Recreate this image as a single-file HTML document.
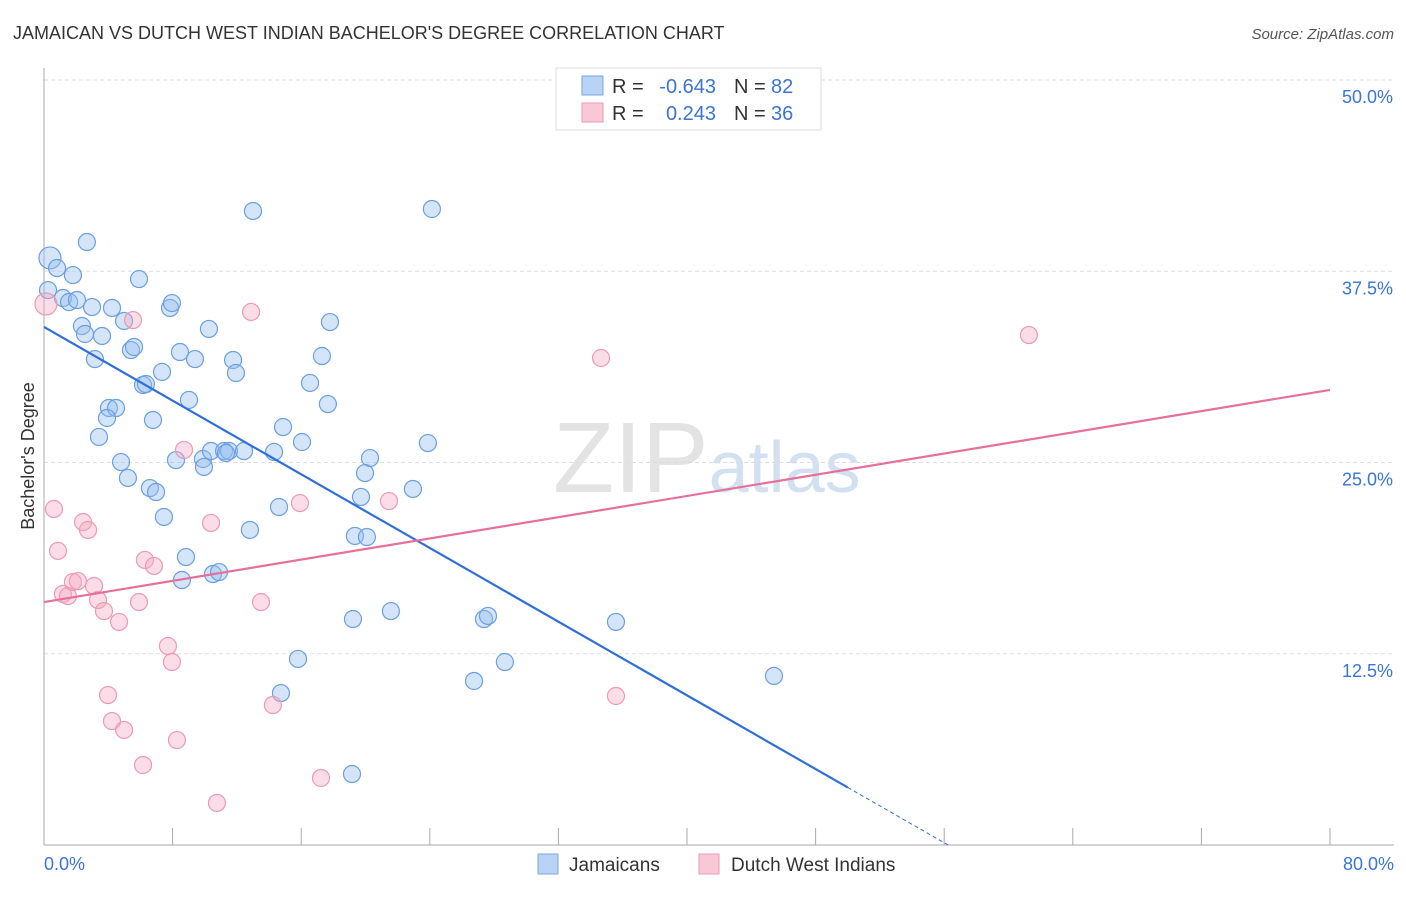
<!DOCTYPE html>
<html><head><meta charset="utf-8"><style>
body{margin:0;background:#fff;font-family:"Liberation Sans",sans-serif;}
svg text{font-family:"Liberation Sans",sans-serif;}
</style></head><body>
<svg id="chart" width="1406" height="892" xmlns="http://www.w3.org/2000/svg">
<text x="13" y="39" font-size="18" fill="#333">JAMAICAN VS DUTCH WEST INDIAN BACHELOR'S DEGREE CORRELATION CHART</text>
<text x="1394" y="39" font-size="15" fill="#555" font-style="italic" text-anchor="end">Source: ZipAtlas.com</text>
<text x="553" y="492" font-size="100" fill="#ddd" font-family="Liberation Serif" opacity="0.8">ZIP<tspan fill="#c9d9ef" font-family="Liberation Sans" font-size="72">atlas</tspan></text>
<text transform="translate(34,456) rotate(-90)" font-size="18" fill="#333" text-anchor="middle">Bachelor's Degree</text>
<g id="grid"></g><g id="axes"></g><g id="pts"></g><g id="trends"></g>
<g>
<rect x="556" y="68" width="265" height="62" fill="#fff" stroke="#ddd"/>
<rect x="582" y="76" width="21" height="19" fill="#b8d3f5" stroke="#7aa7e0"/>
<text x="612" y="93" font-size="20" fill="#333">R =</text>
<text x="716" y="93" font-size="20" fill="#3a74d6" text-anchor="end">-0.643</text>
<text x="734" y="93" font-size="20" fill="#333">N =</text>
<text x="771" y="93" font-size="20" fill="#3a74d6">82</text>
<rect x="582" y="103" width="21" height="19" fill="#f9c8d6" stroke="#eb9ab2"/>
<text x="612" y="120" font-size="20" fill="#333">R =</text>
<text x="716" y="120" font-size="20" fill="#3a74d6" text-anchor="end">0.243</text>
<text x="734" y="120" font-size="20" fill="#333">N =</text>
<text x="771" y="120" font-size="20" fill="#3a74d6">36</text>
</g>
<g>
<rect x="538" y="854" width="20" height="20" fill="#b8d3f5" stroke="#7aa7e0"/>
<text x="569" y="871" font-size="19" fill="#333">Jamaicans</text>
<rect x="699" y="854" width="20" height="20" fill="#f9c8d6" stroke="#eb9ab2"/>
<text x="731" y="871" font-size="19" fill="#333">Dutch West Indians</text>
</g>
</svg>
<script>
const xTickLabels=["0.0%","80.0%"];
const yTicks=[12.5,25,37.5,50];
const yTickLabels=["12.5%","25.0%","37.5%","50.0%"];
const jamX=[0.37,0.25,0.81,1.80,2.67,1.18,1.56,2.05,2.99,4.23,5.91,2.36,2.55,3.61,4.98,3.17,5.41,5.60,7.84,7.96,10.26,8.46,9.39,11.76,11.94,7.34,6.16,6.34,9.02,4.04,4.48,3.92,6.78,3.42,4.79,5.22,8.21,6.59,6.97,9.89,9.95,10.39,11.20,11.51,11.32,12.44,14.31,14.87,16.05,16.55,17.29,17.79,17.66,13.00,24.13,23.88,20.28,19.97,19.72,22.95,14.62,12.81,7.46,8.83,8.58,10.51,10.89,19.34,20.09,19.22,21.58,27.37,27.62,35.58,15.80,14.74,26.75,28.67,45.41,19.16];
const jamY=[38.37,36.27,37.71,37.25,39.41,35.75,35.49,35.62,35.16,35.10,36.99,33.92,33.40,33.27,34.25,31.76,32.35,32.55,35.10,35.42,33.73,32.22,31.76,31.70,30.85,30.92,30.07,30.13,29.09,28.56,28.56,27.91,27.78,26.67,25.03,23.99,25.16,23.33,23.07,25.23,24.71,25.75,25.75,25.75,25.62,25.75,25.69,27.32,26.34,30.20,31.96,34.18,28.82,41.44,41.57,26.27,25.29,24.31,22.75,23.27,22.09,20.59,21.44,18.82,17.32,17.71,17.84,20.20,20.13,14.77,15.29,14.77,14.97,14.58,12.16,9.93,10.72,11.96,11.05,4.64];
const dutX=[0.12,0.62,0.87,2.43,2.74,1.18,1.49,1.80,2.11,3.11,3.36,3.73,4.67,5.91,6.28,6.84,7.71,7.96,8.71,10.39,12.88,5.54,13.50,15.92,21.46,34.65,61.27,3.98,4.23,4.98,6.16,8.27,10.76,14.24,17.23,35.58];
const dutY=[35.36,21.96,19.22,21.11,20.59,16.41,16.27,17.19,17.25,16.93,16.01,15.29,14.58,15.88,18.63,18.24,13.01,11.96,25.82,21.05,34.84,34.31,15.88,22.35,22.48,31.83,33.33,9.80,8.10,7.52,5.23,6.86,2.75,9.15,4.38,9.74];
const jamTrend=[33.86,-0.602];
const dutTrend=[15.88,0.1733];
const NS="http://www.w3.org/2000/svg";
const X=v=>44+v*(1286/80), Y=v=>845-v*15.3;
function mk(p,t,a){const e=document.createElementNS(NS,t);for(const k in a)e.setAttribute(k,a[k]);p.appendChild(e);return e;}
const grid=document.getElementById('grid'),axes=document.getElementById('axes'),pts=document.getElementById('pts'),tr=document.getElementById('trends');
yTicks.forEach((v,i)=>{
 const l=mk(grid,'line',{x1:44,x2:1394,y1:Y(v),y2:Y(v),stroke:'#ddd','stroke-dasharray':'4,3'});
 
 
 const t=mk(grid,'text',{x:1393,y:Y(v)+23,'font-size':18,fill:'#3a74d6','text-anchor':'end'});t.textContent=yTickLabels[i];
 
 
});
const ax=mk(axes,'line',{x1:44,x2:44,y1:68,y2:845,stroke:'#aaa'});


const bx=mk(axes,'line',{x1:44,x2:1394,y1:845,y2:845,stroke:'#aaa'});


for(let i=1;i<=10;i++){const v=i*8;
 const tk=mk(axes,'line',{x1:X(v),x2:X(v),y1:828,y2:845,stroke:'#aaa'});
 
 }
[[0,'start',44],[80,'end',1394]].forEach((d,i)=>{const t=mk(axes,'text',{x:d[2],y:870,'font-size':18,fill:'#3a74d6','text-anchor':d[1]});t.textContent=xTickLabels[i];
 
 });
jamX.forEach((x,i)=>{const c=mk(pts,'circle',{cx:X(x),cy:Y(jamY[i]),r:i===0?11:8.5,fill:'rgba(150,190,240,0.4)',stroke:'#6a9fe0','stroke-width':1.2});
 
 });
dutX.forEach((x,i)=>{const c=mk(pts,'circle',{cx:X(x),cy:Y(dutY[i]),r:i===0?11:8.5,fill:'rgba(245,170,195,0.4)',stroke:'#eb9ab2','stroke-width':1.2});
 
 });
const jb=jamTrend[0],jm=jamTrend[1],xs=50,xe=-jb/jm;
const l1=mk(tr,'line',{x1:X(0),y1:Y(jb),x2:X(xs),y2:Y(jb+jm*xs),stroke:'#2f6fd6','stroke-width':2.2});


const l2=mk(tr,'line',{x1:X(xs),y1:Y(jb+jm*xs),x2:X(xe),y2:Y(0),stroke:'#2f6fd6','stroke-width':1,'stroke-dasharray':'4,3'});


const l3=mk(tr,'line',{x1:X(0),y1:Y(dutTrend[0]),x2:X(80),y2:Y(dutTrend[0]+dutTrend[1]*80),stroke:'#e5709a','stroke-width':2.2});


</script>
</body></html>
